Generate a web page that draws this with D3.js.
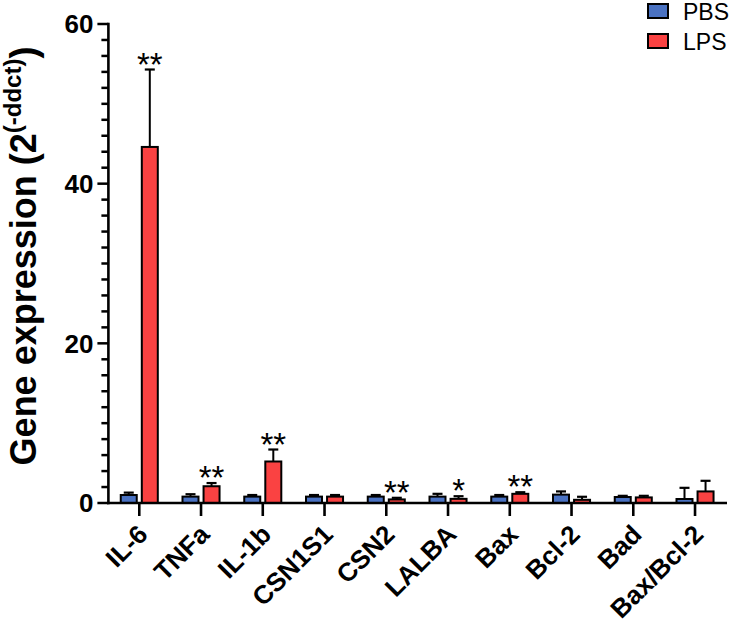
<!DOCTYPE html>
<html>
<head>
<meta charset="utf-8">
<script src="https://cdn.jsdelivr.net/npm/d3@7"></script>
<style>
  html, body { margin: 0; padding: 0; background: #fff; }
  svg { display: block; }
  text { font-family: "Liberation Sans", Arial, Helvetica, sans-serif; }
</style>
</head>
<body>
<svg id="chart" width="735" height="631"></svg>
<script>
// ---- data ----
const categories = ["IL-6", "TNFa", "IL-1b", "CSN1S1", "CSN2", "LALBA", "Bax", "Bcl-2", "Bad", "Bax/Bcl-2"];
const seriesNames = ["PBS", "LPS"];
const pbsMean = [1.0, 0.8, 0.8, 0.8, 0.8, 0.8, 0.8, 1.05, 0.75, 0.5];
const pbsErr  = [1.3, 1.1, 1.0, 1.0, 1.0, 1.15, 1.0, 1.45, 0.9, 1.9];
const lpsMean = [44.6, 2.1, 5.2, 0.8, 0.45, 0.52, 1.15, 0.4, 0.7, 1.45];
const lpsErr  = [54.3, 2.5, 6.7, 1.0, 0.65, 0.85, 1.35, 0.78, 0.9, 2.78];
const stars   = ["**", "**", "**", "", "**", "*", "**", "", "", ""];
const yTickLabels = [0, 20, 40, 60];
const colors = { PBS: "#4a72c2", LPS: "#fa4242" };

// ---- layout ----
const svg = d3.select("#chart");
const x0Left = 108.4, step = 61.75, xRight = 727;
const yTop = 24, yBottom = 503;

const y = d3.scaleLinear().domain([0, 60]).range([yBottom, yTop]);
const x0 = d3.scaleBand().domain(categories)
  .range([x0Left, x0Left + step * categories.length])
  .paddingInner(0.4).paddingOuter(0.2);
const x1 = d3.scaleBand().domain(seriesNames).range([0, x0.bandwidth()]).paddingInner(0.24);

const rows = categories.map((c, i) => ({
  cat: c,
  bars: [
    { s: "PBS", v: pbsMean[i], e: pbsErr[i] },
    { s: "LPS", v: lpsMean[i], e: lpsErr[i] }
  ],
  star: stars[i]
}));

// bars
const g = svg.append("g");
const groups = g.selectAll("g.cat").data(rows).join("g")
  .attr("transform", d => `translate(${x0(d.cat)},0)`);

// error bars (upward only)
groups.selectAll("g.err").data(d => d.bars).join("g").each(function(d) {
  const cx = x1(d.s) + x1.bandwidth() / 2;
  const sel = d3.select(this);
  sel.append("line").attr("x1", cx).attr("x2", cx)
    .attr("y1", y(d.v)).attr("y2", y(d.e))
    .attr("stroke", "#000").attr("stroke-width", 2);
  sel.append("line").attr("x1", cx - 5).attr("x2", cx + 5)
    .attr("y1", y(d.e)).attr("y2", y(d.e))
    .attr("stroke", "#000").attr("stroke-width", 2.2);
});

groups.selectAll("rect").data(d => d.bars).join("rect")
  .attr("x", d => x1(d.s))
  .attr("width", x1.bandwidth())
  .attr("y", d => y(d.v))
  .attr("height", d => y(0) - y(d.v))
  .attr("fill", d => colors[d.s])
  .attr("stroke", "#000")
  .attr("stroke-width", 2);

// significance stars above LPS error bar
groups.filter(d => d.star).append("text")
  .attr("x", d => x1("LPS") + x1.bandwidth() / 2)
  .attr("y", d => y(d.bars[1].e) + 6)
  .attr("text-anchor", "middle")
  .attr("font-size", 33)
  .attr("fill", "#000")
  .text(d => d.star);

// y axis
const yAxisG = svg.append("g").attr("transform", `translate(${x0Left},0)`);
const minorTicks = d3.range(0, 61, 2);
yAxisG.selectAll("line.minor").data(minorTicks).join("line")
  .attr("x1", d => yTickLabels.includes(d) ? -11 : -7).attr("x2", 0)
  .attr("y1", d => y(d)).attr("y2", d => y(d))
  .attr("stroke", "#000").attr("stroke-width", 2.5);
yAxisG.append("line").attr("x1", 0).attr("x2", 0)
  .attr("y1", y(0) + 1.25).attr("y2", y(60) - 1.25)
  .attr("stroke", "#000").attr("stroke-width", 2.6);
yAxisG.selectAll("text").data(yTickLabels).join("text")
  .attr("x", -15).attr("y", d => y(d))
  .attr("dy", "0.36em")
  .attr("text-anchor", "end")
  .attr("font-size", 26).attr("font-weight", "bold")
  .text(d => d);

// x axis
const xAxisG = svg.append("g");
xAxisG.append("line").attr("x1", x0Left - 1.3).attr("x2", xRight)
  .attr("y1", y(0)).attr("y2", y(0))
  .attr("stroke", "#000").attr("stroke-width", 2.6);
xAxisG.selectAll("line.tick").data(categories).join("line")
  .attr("x1", d => x0(d) + x0.bandwidth() / 2).attr("x2", d => x0(d) + x0.bandwidth() / 2)
  .attr("y1", y(0)).attr("y2", y(0) + 13)
  .attr("stroke", "#000").attr("stroke-width", 2.6);
xAxisG.selectAll("text").data(categories).join("text")
  .attr("transform", d => `translate(${x0(d) + x0.bandwidth() / 2 + 10},${y(0) + 33}) rotate(-45)`)
  .attr("text-anchor", "end")
  .attr("font-size", 26).attr("font-weight", "bold")
  .text(d => d);

// y title
const yt = svg.append("text")
  .attr("transform", "translate(36,256) rotate(-90)")
  .attr("text-anchor", "middle")
  .attr("font-size", 36).attr("font-weight", "bold");
yt.append("tspan").text("Gene expression (2");
yt.append("tspan").attr("font-size", 24).attr("dy", -15).text("(-ddct)");
yt.append("tspan").attr("dy", 15).text(")");

// legend
const leg = svg.append("g").attr("transform", "translate(648,4)");
const legRows = leg.selectAll("g").data(seriesNames).join("g")
  .attr("transform", (d, i) => `translate(0,${i * 30})`);
legRows.append("rect").attr("width", 20).attr("height", 14)
  .attr("fill", d => colors[d]).attr("stroke", "#000").attr("stroke-width", 2);
legRows.append("text").attr("x", 35).attr("y", 8).attr("dy", "0.36em")
  .attr("font-size", 23).text(d => d);
</script>
</body>
</html>
